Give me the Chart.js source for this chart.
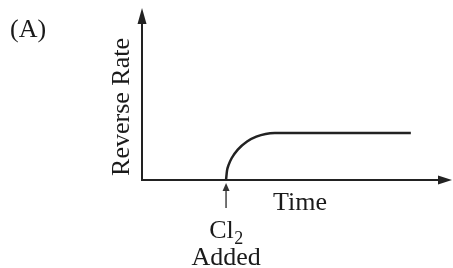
<!DOCTYPE html>
<html>
<head>
<meta charset="utf-8">
<script src="https://cdn.jsdelivr.net/npm/chart.js@4/dist/chart.umd.min.js"></script>
<style>
html,body{margin:0;padding:0;background:#fff;}
#wrap{width:453px;height:268px;position:relative;}
</style>
</head>
<body>
<div id="wrap"><canvas id="c"></canvas></div>
<script>
// Data (arbitrary units: time 0..100, rate 0..100)
const timeValues = [27.2, 27.5, 28, 29, 31, 34, 37, 40, 43, 87];
const reverseRate = [0, 5.4, 8.7, 12.8, 17.9, 22.7, 25.5, 27.1, 27.6, 27.6];
const panelLabel = "(A)";
const yAxisTitle = "Reverse Rate";
const xAxisTitle = "Time";
const eventTime = 27.2;
const eventLabel = ["Cl", "2", "Added"];

const points = timeValues.map((t, i) => ({x: t, y: reverseRate[i]}));
const FONT = '"Liberation Serif", "DejaVu Serif", serif';
const INK = '#222';

const decor = {
  id: 'decor',
  afterDatasetsDraw(chart) {
    const ctx = chart.ctx;
    const xs = chart.scales.x, ys = chart.scales.y;
    const x0 = xs.getPixelForValue(0), y0 = ys.getPixelForValue(0);
    const top = chart.chartArea.top, right = chart.chartArea.right;
    ctx.save();
    // axes
    ctx.strokeStyle = INK; ctx.fillStyle = INK; ctx.lineWidth = 2;
    ctx.beginPath();
    ctx.moveTo(x0, y0 + 1); ctx.lineTo(x0, top + 8);
    ctx.moveTo(x0 - 1, y0); ctx.lineTo(right - 8, y0);
    ctx.stroke();
    // arrowheads
    ctx.beginPath();
    ctx.moveTo(x0, top - 2); ctx.lineTo(x0 - 4.5, top + 14); ctx.lineTo(x0 + 4.5, top + 14); ctx.closePath();
    ctx.fill();
    ctx.beginPath();
    ctx.moveTo(right + 1, y0); ctx.lineTo(right - 13, y0 - 4.5); ctx.lineTo(right - 13, y0 + 4.5); ctx.closePath();
    ctx.fill();
    // event arrow
    const ex = xs.getPixelForValue(eventTime);
    ctx.strokeStyle = '#444'; ctx.fillStyle = '#333'; ctx.lineWidth = 1.5;
    ctx.beginPath(); ctx.moveTo(ex, y0 + 28); ctx.lineTo(ex, y0 + 9); ctx.stroke();
    ctx.beginPath(); ctx.moveTo(ex, y0 + 3); ctx.lineTo(ex - 3.5, y0 + 11); ctx.lineTo(ex + 3.5, y0 + 11); ctx.closePath(); ctx.fill();
    // texts
    ctx.fillStyle = '#1a1a1a';
    ctx.textBaseline = 'alphabetic';
    ctx.font = '26px ' + FONT;
    ctx.textAlign = 'left';
    ctx.fillText(panelLabel, 10, 37);
    ctx.fillText(xAxisTitle, 273, y0 + 30);
    // Cl2
    const clW = ctx.measureText(eventLabel[0]).width;
    ctx.font = '18px ' + FONT;
    const subW = ctx.measureText(eventLabel[1]).width;
    const startX = ex - (clW + subW) / 2;
    ctx.font = '26px ' + FONT;
    ctx.fillText(eventLabel[0], startX, y0 + 58);
    ctx.font = '18px ' + FONT;
    ctx.fillText(eventLabel[1], startX + clW + 0.5, y0 + 64);
    ctx.font = '26px ' + FONT;
    ctx.textAlign = 'center';
    ctx.fillText(eventLabel[2], ex, y0 + 85);
    // y title
    ctx.save();
    ctx.translate(128.5, (top + y0) / 2 + 12);
    ctx.rotate(-Math.PI / 2);
    ctx.textAlign = 'center';
    ctx.fillText(yAxisTitle, 0, 0);
    ctx.restore();
    ctx.restore();
  }
};

new Chart(document.getElementById('c'), {
  type: 'scatter',
  data: {
    datasets: [{
      data: points,
      showLine: true,
      borderColor: INK,
      borderWidth: 2.5,
      pointRadius: 0,
      cubicInterpolationMode: 'monotone',
      fill: false
    }]
  },
  options: {
    responsive: true,
    maintainAspectRatio: false,
    animation: false,
    layout: {padding: {left: 142, top: 10, right: 2, bottom: 88}},
    plugins: {legend: {display: false}, tooltip: {enabled: false}},
    scales: {
      x: {type: 'linear', min: 0, max: 100, display: false},
      y: {type: 'linear', min: 0, max: 100, display: false}
    }
  },
  plugins: [decor]
});
</script>
</body>
</html>
